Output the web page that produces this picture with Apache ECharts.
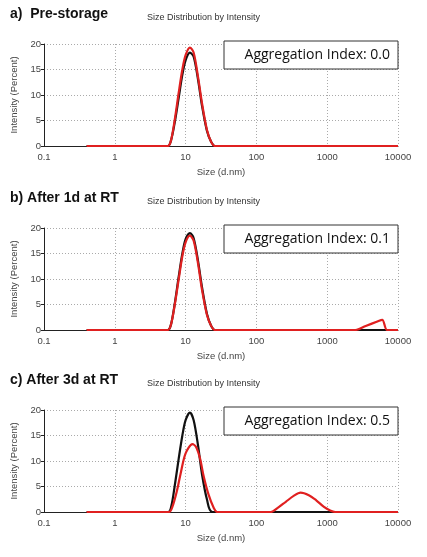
<!DOCTYPE html>
<html><head><meta charset="utf-8">
<script src="https://cdn.jsdelivr.net/npm/echarts@6/dist/echarts.min.js"></script>
<style>body{margin:0;background:#fff}#c{width:427px;height:557px}</style>
</head><body><div id="c"></div>
<script>
const panelTitles = ['a)  Pre-storage', 'b) After 1d at RT', 'c) After 3d at RT'];
const aggIndex = ['Aggregation Index: 0.0', 'Aggregation Index: 0.1', 'Aggregation Index: 0.5'];
const yTicks = [0, 5, 10, 15, 20];

// [size d.nm, intensity %]
const blackA = [[0.4,0],[5.6,0],[6.2,1],[7,4.5],[8,9.5],[9,14],[10,16.8],[11.5,18.3],[13,17.5],[15,13],[17,8],[20,3],[23,0.8],[26,0],[10000,0]];
const redA = [[0.4,0],[5.6,0],[6.2,1],[7,5],[8,10.5],[9,15],[10,17.8],[11.5,19.3],[13,18.3],[15,13.5],[17,8.5],[20,3.2],[23,0.8],[26,0],[10000,0]];
const blackB = [[0.4,0],[5.6,0],[6.2,1],[7,5],[8,10.5],[9,15],[10,17.8],[11.5,19],[13,18],[15,13.5],[17,8.5],[20,3.2],[23,0.8],[26,0],[10000,0]];
const redB = [[0.4,0],[5.6,0],[6.2,1],[7,4.8],[8,10],[9,14.5],[10,17.2],[11.5,18.5],[13,17.5],[15,13],[17,8],[20,3],[23,0.8],[26,0],[2500,0],[3500,0.8],[5000,1.6],[6000,2],[7000,0],[10000,0]];
const blackC = [[0.4,0],[5.7,0],[6.3,1.2],[7,5],[8,10.5],[9,15],[10,18],[11.5,19.5],[13,18],[15,13],[17,7.5],[20,2.5],[24,0],[10000,0]];
const redC = [[0.4,0],[5.8,0],[6.5,1],[7.5,4],[8.5,7.5],[10,11.5],[12.5,13.3],[14,12.8],[16,10.5],[18,7],[21,3.5],[25,0.8],[28,0],[160,0],[200,0.8],[260,2],[340,3.2],[420,3.8],[550,3.3],[700,2.3],[900,1],[1100,0.3],[1300,0],[10000,0]];
const blacks = [blackA, blackB, blackC];
const reds = [redA, redB, redC];

const tops = [44, 228, 410];
const plotH = 102;
const chart = echarts.init(document.getElementById('c'));
const grid = [], xAxis = [], yAxis = [], series = [], graphic = [];
const lab = {fontSize: 9.5, color: '#444', fontFamily: 'Arial'};
const split = {show: true, lineStyle: {color: '#aaa', type: [1, 2]}};
tops.forEach((t, i) => {
  grid.push({left: 44, width: 354, top: t, height: plotH});
  xAxis.push({type: 'log', gridIndex: i, min: 0.1, max: 10000, logBase: 10,
    name: 'Size (d.nm)', nameLocation: 'middle', nameGap: 21, nameTextStyle: lab,
    axisLine: {lineStyle: {color: '#222'}}, axisTick: {show: false},
    axisLabel: Object.assign({margin: 6, formatter: v => String(+v.toPrecision(2))}, lab),
    splitLine: split, minorTick: {show: false}});
  yAxis.push({type: 'value', gridIndex: i, min: 0, max: 20, interval: 5,
    name: 'Intensity (Percent)', nameLocation: 'middle', nameGap: 23, nameTextStyle: lab,
    axisLine: {show: true, lineStyle: {color: '#222'}}, axisTick: {show: true, length: 3},
    axisLabel: Object.assign({margin: 3}, lab), splitLine: split});
  series.push({type: 'line', xAxisIndex: i, yAxisIndex: i, data: blacks[i], showSymbol: false,
    smooth: 0.3, lineStyle: {color: '#111', width: 2.2}, z: 2});
  series.push({type: 'line', xAxisIndex: i, yAxisIndex: i, data: reds[i], showSymbol: false,
    smooth: 0.3, lineStyle: {color: '#e02020', width: 2.2}, z: 3});
  graphic.push({type: 'text', left: 10, top: t - 37, style: {text: panelTitles[i], font: 'bold 14px Arial', fill: '#111'}});
  graphic.push({type: 'text', left: 147, top: t - 31, style: {text: 'Size Distribution by Intensity', font: '9px Arial', fill: '#333'}});
  graphic.push({type: 'rect', shape: {x: 224, y: t - 3, width: 174, height: 28},
    style: {fill: '#fff', stroke: '#333', lineWidth: 1}, z: 10});
  graphic.push({type: 'text', x: 390, y: t + 11, z: 11,
    style: {text: aggIndex[i], font: '14px "Open Sans"', fill: '#111', align: 'right', verticalAlign: 'middle'}});
});
chart.setOption({animation: false, grid, xAxis, yAxis, series, graphic});
</script></body></html>
